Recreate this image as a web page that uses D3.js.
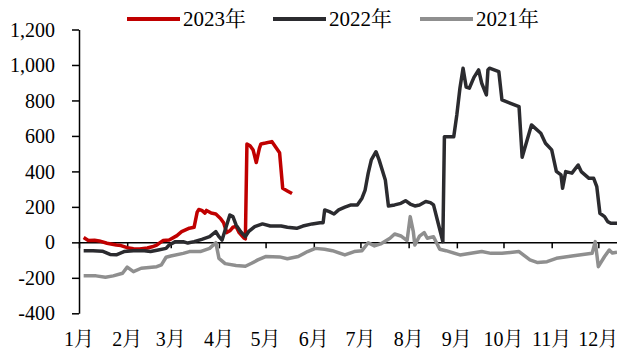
<!DOCTYPE html>
<html>
<head>
<meta charset="utf-8">
<script src="https://cdn.jsdelivr.net/npm/d3@7/dist/d3.min.js"></script>
<style>
  html, body { margin: 0; padding: 0; background: #fff; }
  svg text { font-family: "Times New Roman", "Liberation Serif", "Noto Serif CJK SC", "Noto Sans CJK SC", serif; fill: #000; }
</style>
</head>
<body>
<svg id="chart" width="617" height="354"></svg>
<script>
// Daily spread, three years overlaid on a common Jan–Dec calendar (MM-DD)
const dates2023 = ["01-04","01-07","01-11","01-14","01-19","01-25","01-28","02-01","02-05","02-09","02-14","02-17","02-20","02-24","02-28","03-05","03-08","03-13","03-16","03-18","03-19","03-21","03-23","03-24","03-27","03-30","04-02","04-04","04-06","04-08","04-10","04-12","04-14","04-17","04-18","04-19","04-21","04-23","04-25","04-27","04-28","05-01","05-05","05-08","05-10","05-12","05-15","05-18"];
const values2023 = [27,10,12,8,-5,-15,-18,-30,-36,-37,-32,-25,-15,10,13,38,60,80,85,170,185,180,165,180,165,160,135,110,55,65,85,90,55,25,20,555,545,520,450,530,555,560,568,530,505,305,290,275];

const dates2022 = ["01-04","01-10","01-16","01-21","01-25","01-30","02-05","02-12","02-16","02-21","02-26","02-28","03-04","03-09","03-12","03-16","03-21","03-26","03-30","04-01","04-03","04-05","04-08","04-10","04-12","04-15","04-18","04-20","04-24","04-29","05-04","05-11","05-15","05-21","05-25","05-31","06-05","06-07","06-08","06-11","06-14","06-17","06-21","06-25","06-29","07-02","07-04","07-06","07-08","07-11","07-13","07-17","07-19","07-23","07-27","07-30","08-02","08-05","08-08","08-12","08-15","08-17","08-20","08-23","08-24","08-30","09-01","09-03","09-05","09-07","09-09","09-12","09-15","09-17","09-20","09-21","09-22","09-28","09-30","10-11","10-13","10-19","10-25","10-28","11-01","11-04","11-07","11-08","11-10","11-14","11-18","11-20","11-25","11-28","11-30","12-02","12-05","12-07","12-09","12-12","12-14"];
const values2022 = [-47,-47,-50,-68,-70,-52,-47,-47,-52,-43,-34,-15,4,4,-4,4,17,32,60,32,13,70,154,145,98,60,32,60,89,104,92,92,85,79,92,104,111,111,183,173,160,183,198,211,211,249,295,390,465,511,465,352,205,211,220,235,216,205,211,230,224,211,108,4,596,596,720,870,982,875,869,930,972,897,831,972,982,962,803,765,480,662,615,559,521,400,380,305,399,390,436,399,361,361,314,164,145,117,108,108,108];

const dates2021 = ["01-04","01-12","01-18","01-23","01-29","02-01","02-05","02-10","02-20","02-23","02-26","03-01","03-09","03-13","03-20","03-26","03-30","04-01","04-05","04-12","04-18","04-22","04-26","05-01","05-10","05-15","05-22","05-28","06-02","06-08","06-13","06-21","06-27","07-02","07-06","07-10","07-14","07-20","07-23","07-27","07-31","08-02","08-04","08-05","08-08","08-11","08-13","08-17","08-21","08-25","09-03","09-10","09-17","09-23","09-30","10-11","10-18","10-23","10-29","11-04","11-14","11-27","11-29","12-01","12-05","12-08","12-10","12-13"];
const values2021 = [-189,-189,-197,-189,-174,-140,-165,-146,-137,-127,-84,-77,-62,-52,-52,-34,-2,-90,-120,-130,-135,-118,-99,-80,-82,-92,-80,-52,-34,-39,-47,-71,-52,-47,-2,-20,-9,23,47,36,10,145,60,-15,35,55,23,32,-39,-47,-71,-62,-52,-62,-62,-52,-99,-114,-109,-90,-77,-62,4,-137,-80,-43,-60,-55];

const seriesNames = ["2023年", "2022年", "2021年"];
const seriesColors = ["#C00000", "#2B2B2F", "#8F8F8F"];
const yTicks = [-400, -200, 0, 200, 400, 600, 800, 1000, 1200];
const monthLabels = ["1月","2月","3月","4月","5月","6月","7月","8月","9月","10月","11月","12月"];

const toDate = s => { const [m, d] = s.split("-").map(Number); return new Date(Date.UTC(2022, m - 1, d)); };

const series = [
  { name: seriesNames[0], color: seriesColors[0], pts: dates2023.map((d, i) => ({ date: toDate(d), value: values2023[i] })) },
  { name: seriesNames[1], color: seriesColors[1], pts: dates2022.map((d, i) => ({ date: toDate(d), value: values2022[i] })) },
  { name: seriesNames[2], color: seriesColors[2], pts: dates2021.map((d, i) => ({ date: toDate(d), value: values2021[i] })) }
];

const svg = d3.select("#chart");

const x = d3.scaleUtc()
  .domain([new Date(Date.UTC(2022, 0, 1)), new Date(Date.UTC(2022, 11, 13))])
  .range([79, 617]);
const y = d3.scaleLinear().domain([-400, 1200]).range([313.3, 29.5]);

const monthStarts = d3.range(12).map(m => new Date(Date.UTC(2022, m, 1)));

// Y axis
const yAxis = svg.append("g")
  .attr("transform", "translate(79,0)")
  .call(d3.axisLeft(y).tickValues(yTicks).tickSize(7).tickSizeOuter(0).tickPadding(17)
    .tickFormat(d => d3.format(",")(d).replace("\u2212", "-")));
yAxis.selectAll("text").attr("font-size", 20).attr("dy", "0.33em");
yAxis.selectAll("line, path").attr("stroke", "#000").attr("stroke-width", 1.5);

// X axis along the zero line
const xAxis = svg.append("g")
  .attr("transform", `translate(0,${y(0)})`)
  .call(d3.axisBottom(x).tickValues(monthStarts).tickSize(6).tickSizeOuter(0).tickFormat(""));
xAxis.selectAll("line, path").attr("stroke", "#000").attr("stroke-width", 1.5);

// Month labels at the bottom of the plot
svg.append("g").selectAll("text")
  .data(monthStarts)
  .join("text")
  .attr("x", d => x(d))
  .attr("y", 346)
  .attr("text-anchor", "middle")
  .attr("font-size", 20)
  .text((d, i) => monthLabels[i]);

// Lines
const line = d3.line().x(d => x(d.date)).y(d => y(d.value));
svg.append("g").selectAll("path")
  .data(series)
  .join("path")
  .attr("d", d => line(d.pts))
  .attr("fill", "none")
  .attr("stroke", d => d.color)
  .attr("stroke-width", 3.5)
  .attr("stroke-linejoin", "round");

// Legend
const legendX = [127, 273, 420];
const legend = svg.append("g").selectAll("g")
  .data(series)
  .join("g")
  .attr("transform", (d, i) => `translate(${legendX[i]},19)`);
legend.append("line")
  .attr("x1", 0).attr("x2", 53)
  .attr("stroke", d => d.color).attr("stroke-width", 4);
legend.append("text")
  .attr("x", 56).attr("y", 7)
  .attr("font-size", 21)
  .text(d => d.name);
</script>
</body>
</html>
